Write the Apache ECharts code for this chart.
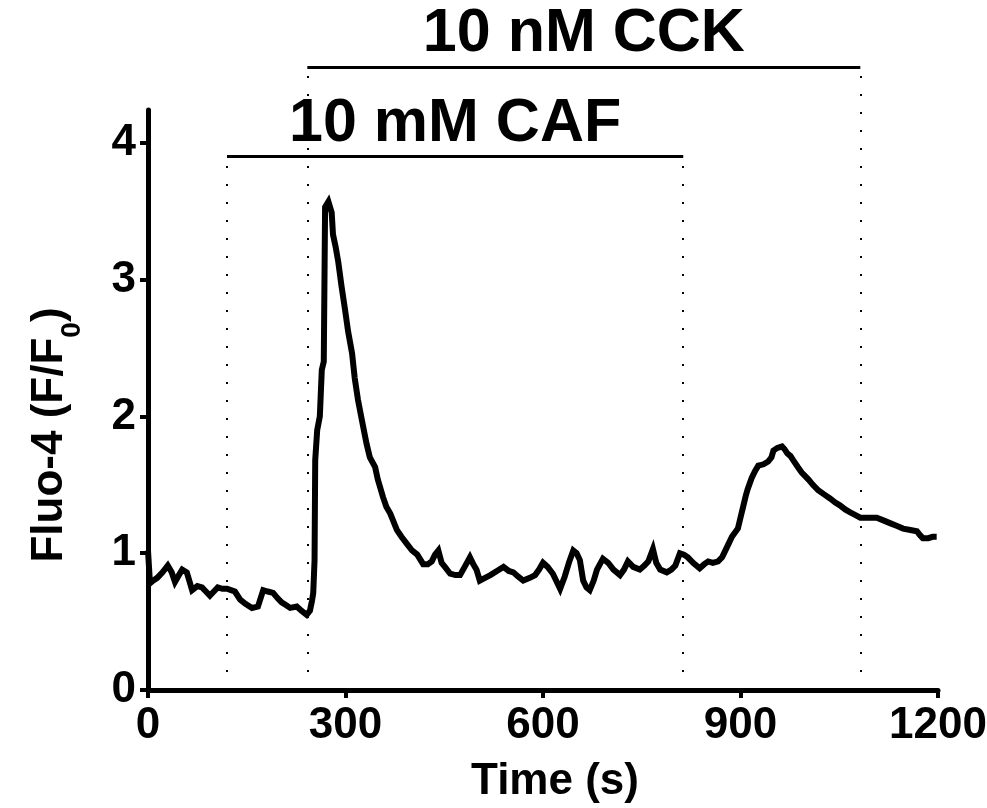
<!DOCTYPE html>
<html>
<head>
<meta charset="utf-8">
<script src="https://cdn.jsdelivr.net/npm/echarts@6/dist/echarts.min.js"></script>
<style>
  html, body { margin: 0; padding: 0; background: #fff; }
  #chart { width: 987px; height: 808px; }
</style>
</head>
<body>
<div id="chart"></div>
<script>
// trace: time (s) and Fluo-4 (F/F0)
var timeSec = [0, 3, 8, 14, 22, 30, 36, 41, 47, 52, 59, 67, 75, 82, 88, 94, 100, 106, 113, 120,
  126, 132, 140, 148, 158, 167, 175, 182, 190, 197, 203, 210, 216, 226, 233, 241, 246, 249, 251, 253,
  254, 257, 261, 264, 267, 269, 274, 279, 281, 285, 289, 294, 299, 304, 310, 314, 319, 325, 332, 337,
  345, 349, 357, 362, 368, 378, 385, 393, 401, 409, 418, 425, 431, 436, 441, 446, 451, 459, 467, 474,
  481, 489, 494, 499, 504, 512, 520, 530, 540, 548, 555, 562, 570, 580, 588, 594, 600, 607, 615, 621,
  626, 633, 640, 646, 651, 656, 661, 666, 671, 677, 682, 691, 699, 707, 717, 723, 729, 737, 747, 754,
  760, 767, 772, 778, 788, 795, 801, 808, 814, 820, 828, 838, 845, 851, 858, 866, 872, 876, 882, 887,
  896, 900, 904, 908, 911, 917, 922, 927, 935, 942, 947, 950, 956, 963, 967, 971, 976, 980, 987, 993,
  1003, 1010, 1018, 1027, 1036, 1044, 1051, 1059, 1066, 1074, 1082, 1094, 1107, 1117, 1127, 1137, 1147, 1158, 1168, 1173,
  1177, 1185, 1192, 1198];
var fluo = [1.02, 0.78, 0.80, 0.82, 0.86, 0.91, 0.86, 0.79, 0.84, 0.88, 0.86, 0.73, 0.76, 0.75, 0.72, 0.69, 0.72, 0.75, 0.74, 0.74,
  0.73, 0.72, 0.66, 0.63, 0.60, 0.61, 0.73, 0.72, 0.71, 0.67, 0.64, 0.62, 0.60, 0.61, 0.58, 0.55, 0.58, 0.65, 0.71, 0.95,
  1.68, 1.90, 2.00, 2.34, 2.40, 3.53, 3.57, 3.49, 3.33, 3.24, 3.13, 2.95, 2.79, 2.62, 2.46, 2.28, 2.12, 1.97, 1.80, 1.70,
  1.63, 1.54, 1.41, 1.34, 1.29, 1.17, 1.12, 1.07, 1.02, 0.99, 0.92, 0.92, 0.94, 0.99, 1.02, 0.93, 0.90, 0.85, 0.84, 0.84,
  0.90, 0.97, 0.92, 0.88, 0.80, 0.82, 0.84, 0.87, 0.90, 0.87, 0.86, 0.83, 0.80, 0.82, 0.84, 0.88, 0.93, 0.90, 0.85, 0.79,
  0.74, 0.83, 0.94, 1.02, 1.00, 0.95, 0.80, 0.75, 0.73, 0.80, 0.88, 0.96, 0.93, 0.88, 0.84, 0.88, 0.94, 0.90, 0.88, 0.91,
  0.94, 1.03, 0.93, 0.88, 0.86, 0.88, 0.91, 1.00, 0.99, 0.97, 0.93, 0.89, 0.92, 0.94, 0.93, 0.94, 0.97, 1.01, 1.07, 1.12,
  1.18, 1.26, 1.34, 1.42, 1.47, 1.55, 1.60, 1.64, 1.65, 1.67, 1.70, 1.75, 1.77, 1.78, 1.76, 1.73, 1.71, 1.68, 1.63, 1.59,
  1.54, 1.50, 1.46, 1.43, 1.40, 1.37, 1.35, 1.32, 1.30, 1.28, 1.26, 1.26, 1.26, 1.24, 1.22, 1.20, 1.18, 1.17, 1.16, 1.13,
  1.11, 1.11, 1.12, 1.12];

var xTicks = [0, 300, 600, 900, 1200];
var yTicks = [0, 1, 2, 3, 4];

// application periods: label, start s, end s, bar level
var drugNames = ['10 mM CAF', '10 nM CCK'];
var drugStart = [120, 242];
var drugEnd = [813, 1082];
var drugLevel = [3.9, 4.554];

var FONT = '"Liberation Sans", Arial, Helvetica, sans-serif';

// pixel frame of the visible axes
var gLeft = 148, gRight = 49, gBottom = 118, gTop = 110;
var yVisMax = 4.24;
var pxPerUnit = (808 - gBottom - gTop) / yVisMax;
var yDataMax = 4.8;
var dataTop = 808 - gBottom - yDataMax * pxPerUnit;

var points = [];
for (var i = 0; i < timeSec.length; i++) {
  points.push([timeSec[i], fluo[i]]);
}

var markData = [];
for (var k = 0; k < drugNames.length; k++) {
  // bar with its label
  markData.push([
    { coord: [drugStart[k], drugLevel[k]],
      lineStyle: { type: 'solid', width: 3, color: '#000' },
      label: { show: true, position: 'insideMiddleTop', formatter: drugNames[k],
               distance: 2, color: '#000', fontFamily: FONT, fontWeight: 'bold', fontSize: 61 } },
    { coord: [drugEnd[k], drugLevel[k]] }
  ]);
  // dotted drops to the axis
  markData.push([
    { coord: [drugStart[k], 0], label: { show: false } },
    { coord: [drugStart[k], drugLevel[k]] }
  ]);
  markData.push([
    { coord: [drugEnd[k], 0], label: { show: false } },
    { coord: [drugEnd[k], drugLevel[k]] }
  ]);
}

var chart = echarts.init(document.getElementById('chart'), null, { renderer: 'canvas' });

chart.setOption({
  animation: false,
  backgroundColor: '#fff',
  grid: [
    { left: gLeft, right: gRight, top: gTop, bottom: gBottom, outerBoundsMode: 'none', containLabel: false },
    { left: gLeft, right: gRight, top: dataTop, bottom: gBottom, outerBoundsMode: 'none', containLabel: false }
  ],
  xAxis: [{
    gridIndex: 0,
    type: 'value', min: 0, max: 1200, interval: 300,
    name: 'Time (s)', nameLocation: 'middle', nameGap: 70,
    nameTextStyle: { color: '#000', fontFamily: FONT, fontWeight: 'bold', fontSize: 44, padding: [0, 0, 0, 24] },
    axisLine: { lineStyle: { color: '#000', width: 5 } },
    axisTick: { length: 8, lineStyle: { color: '#000', width: 4 }, customValues: xTicks },
    minorTick: { show: true, splitNumber: 2, length: 3, lineStyle: { color: '#000', width: 1 } },
    axisLabel: {
      color: '#000', fontFamily: FONT, fontWeight: 'bold', fontSize: 44, margin: 14,
      customValues: xTicks, hideOverlap: false,
      formatter: function (v) { return String(v); }
    },
    splitLine: { show: false }
  }, {
    gridIndex: 1, type: 'value', min: 0, max: 1200, show: false
  }],
  yAxis: [{
    gridIndex: 0,
    type: 'value', min: 0, max: yVisMax,
    name: 'Fluo-4 (F/F{sub|0})', nameLocation: 'middle', nameGap: 76,
    nameTextStyle: {
      color: '#000', fontFamily: FONT, fontWeight: 'bold', fontSize: 44, padding: [0, 70, 0, 0],
      rich: { sub: { fontFamily: FONT, fontWeight: 'bold', fontSize: 28, verticalAlign: 'bottom', padding: [0, 0, -14, 0] } }
    },
    axisLine: { lineStyle: { color: '#000', width: 5 } },
    axisTick: { length: 8, lineStyle: { color: '#000', width: 4 }, customValues: yTicks },
    axisLabel: { color: '#000', fontFamily: FONT, fontWeight: 'bold', fontSize: 44, margin: 12, customValues: yTicks },
    splitLine: { show: false }
  }, {
    gridIndex: 1, type: 'value', min: 0, max: yDataMax, show: false
  }],
  series: [{
    type: 'line',
    xAxisIndex: 1, yAxisIndex: 1,
    data: points,
    showSymbol: false,
    symbol: 'none',
    clip: false,
    lineStyle: { color: '#000', width: 6, join: 'miter' },
    markLine: {
      silent: true,
      symbol: 'none',
      animation: false,
      lineStyle: { color: '#000', width: 2, type: [2, 16] },
      label: { show: false },
      data: markData
    }
  }]
});
</script>
</body>
</html>
